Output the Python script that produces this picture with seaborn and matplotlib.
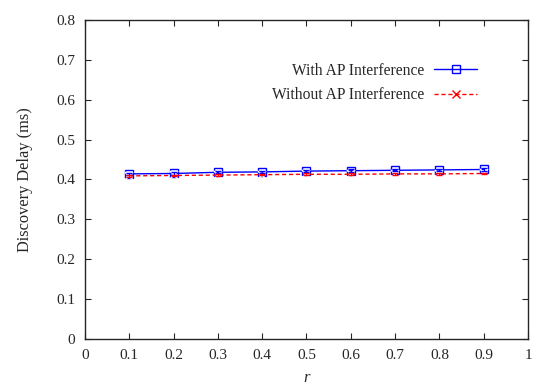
import numpy as np
import seaborn as sns
import matplotlib.pyplot as plt
from matplotlib.lines import Line2D

r = [0.1, 0.2, 0.3, 0.4, 0.5, 0.6, 0.7, 0.8, 0.9]
with_ap = [0.414, 0.415, 0.418, 0.419, 0.421, 0.422, 0.423, 0.424, 0.425]
with_ap_err = [0.003, 0.003, 0.003, 0.003, 0.003, 0.003, 0.003, 0.003, 0.003]
without_ap = [0.409, 0.410, 0.411, 0.412, 0.413, 0.413, 0.414, 0.414, 0.415]
without_ap_err = [0.002, 0.002, 0.002, 0.002, 0.002, 0.002, 0.002, 0.002, 0.002]

labels = ["With AP Interference", "Without AP Interference"]

sns.set_style("ticks")
plt.rcParams['font.family'] = ['Liberation Serif', 'DejaVu Serif']

fig = plt.figure(figsize=(5.5, 3.91), dpi=100)
ax = fig.add_axes([0.1545, 0.133, 0.8055, 0.816])

sns.lineplot(x=r, y=with_ap, color="blue", marker="s", markersize=6,
             markerfacecolor="none", markeredgecolor="blue", markeredgewidth=1.0,
             linewidth=1.0, ax=ax)
sns.lineplot(x=r, y=without_ap, color="red", marker="x", markersize=6,
             markeredgewidth=1.2, linestyle=(0, (3, 2)), linewidth=1.0, ax=ax)
ax.errorbar(r, with_ap, yerr=with_ap_err, fmt="none", ecolor="blue",
            elinewidth=0.8, capsize=2)
ax.errorbar(r, without_ap, yerr=without_ap_err, fmt="none", ecolor="red",
            elinewidth=0.8, capsize=2)

ax.set_xlim(0, 1)
ax.set_ylim(0, 0.8)
ax.set_xticks(np.arange(0, 1.01, 0.1))
ax.set_xticklabels(["0", "0.1", "0.2", "0.3", "0.4", "0.5", "0.6", "0.7", "0.8", "0.9", "1"])
ax.set_yticks(np.arange(0, 0.81, 0.1))
ax.set_yticklabels(["0", "0.1", "0.2", "0.3", "0.4", "0.5", "0.6", "0.7", "0.8"])
ax.tick_params(direction="in", top=True, right=True, length=4, labelsize=11, width=0.8)
ax.tick_params(axis="x", pad=7)
ax.tick_params(axis="y", pad=7)
for s in ax.spines.values():
    s.set_linewidth(1.0)
ax.set_xlabel("r", fontsize=12, style="italic", labelpad=6)
ax.set_ylabel("Discovery Delay (ms)", fontsize=11.8, labelpad=17)

handles = [
    Line2D([], [], color="blue", marker="s", markerfacecolor="none", markeredgecolor="blue",
           markersize=6, linewidth=1.0),
    Line2D([], [], color="red", marker="x", linestyle=(0, (3, 2)), markersize=6, linewidth=1.0),
]
ax.legend(handles, labels, loc="upper right", bbox_to_anchor=(0.917, 0.91),
          markerfirst=False, frameon=False, fontsize=11.2, handlelength=2.75,
          labelspacing=0.55, handletextpad=0.65)

fig.savefig("out.png", dpi=100)
